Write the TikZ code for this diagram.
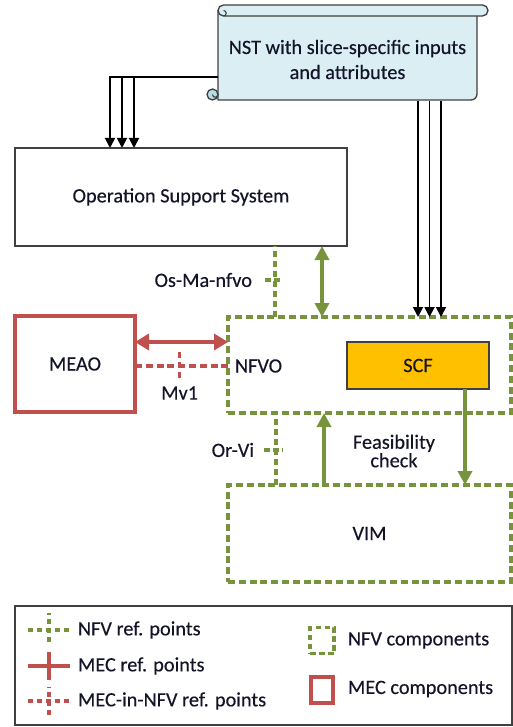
\documentclass[tikz,border=0pt]{standalone}
\usepackage{fontspec}
\setmainfont{Carlito}[FakeBold=0.35]
\usetikzlibrary{arrows.meta,calc}
\definecolor{nfvgreen}{HTML}{77933C}
\definecolor{mecred}{HTML}{C0504D}
\definecolor{scfgold}{HTML}{FFC000}
\definecolor{scrollblue}{HTML}{DAEEF3}
\definecolor{scrolldark}{HTML}{B7DDE8}
\definecolor{edgegray}{HTML}{404040}
\definecolor{txt}{HTML}{141428}
\begin{document}
\begin{tikzpicture}[x=1pt,y=-1pt,
  every node/.style={font=\fontsize{20.3}{25}\selectfont, inner sep=0pt, outer sep=0pt, text=txt},
  plainbox/.style={draw=edgegray, line width=1.3pt, rectangle},
  nfvbox/.style={draw=nfvgreen, line width=3.2pt, dash pattern=on 7pt off 3.8pt, line cap=butt, rectangle},
  mecbox/.style={draw=mecred, line width=4pt, rectangle},
  scfbox/.style={draw=edgegray, fill=scfgold, line width=1.3pt, rectangle},
  scrollshape/.style={draw=edgegray, fill=scrollblue, line width=1.3pt, line join=round},
  nfvref/.style={draw=nfvgreen, line width=3.6pt, dash pattern=on 6.5pt off 3.5pt, line cap=butt},
  mecnfvref/.style={draw=mecred, line width=3.4pt, dash pattern=on 7pt off 3.8pt, line cap=butt},
  tickdash/.style={dash pattern=on 6pt off 3pt},
  mecref/.style={draw=mecred, line width=4pt},
  garrow/.style={draw=nfvgreen, line width=3.5pt},
  gtip/.tip={Triangle[width=14pt,length=14pt]},
  rtip/.tip={Triangle[width=16pt,length=14pt]},
  blkarrow/.style={draw=black, line width=1.8pt, -{Triangle[width=10pt,length=10pt]}},
  legnfvref/.style={draw=nfvgreen, line width=3.4pt, dash pattern=on 5pt off 4pt, line cap=butt},
  legmecnfvref/.style={draw=mecred, line width=3.4pt, dash pattern=on 5pt off 4pt, line cap=butt},
  legnfvbox/.style={draw=nfvgreen, line width=3.2pt, dash pattern=on 5.5pt off 3.5pt, line cap=butt},
]
\useasboundingbox (0,0) rectangle (513,727);

% ---- NST scroll ----
\path[scrollshape] (218,10.5) -- (218,100) -- (471,100) arc[start angle=90,end angle=0,radius=6] -- (477,10.5) -- cycle;
\path[scrollshape] (223.5,5) -- (482.5,5) arc[start angle=270,end angle=450,radius=5.5] -- (223.5,16) arc[start angle=90,end angle=270,radius=5.5] -- cycle;
\draw[edgegray, line width=1.1pt] (223.5,16) arc[start angle=90,end angle=-90,radius=2.75];
\path[scrollshape, fill=scrolldark] (212.5,94.5) circle[radius=5.5];
\draw[edgegray, line width=1.1pt] (212.5,94.5) arc[start angle=180,end angle=0,radius=2.75];
\node[minimum width=259pt, minimum height=84pt, align=center] (nst) at (347.5,59.5) {NST with slice-specific inputs\\and attributes};

% ---- main boxes ----
\node[plainbox, minimum width=332pt, minimum height=98pt] (oss) at (181,197) {Operation Support System};
\node[nfvbox, minimum width=283pt, minimum height=96pt] (nfvo) at (369.5,365) {};
\node[scfbox, minimum width=142pt, minimum height=47pt] (scf) at (418,365.5) {SCF};
\node[mecbox, minimum width=120pt, minimum height=96pt] (meao) at (75,364) {MEAO};
\node[nfvbox, minimum width=283pt, minimum height=97pt] (vim) at (369.5,533.5) {VIM};
\node[anchor=west] (nfvolabel) at ($(nfvo.west)+(7,1)$) {NFVO};

% ---- black input arrows ----
\coordinate (nstL) at ($(nst.west)+(0,17.5)$);
\draw[blkarrow] (nstL) -| ($(oss.north west)+(95,0)$);
\draw[blkarrow] (nstL) -| ($(oss.north west)+(107,0)$);
\draw[blkarrow] (nstL) -| ($(oss.north west)+(119,0)$);
\coordinate (b1) at ($(nst.south)+(70.5,0)$);
\coordinate (b2) at ($(nst.south)+(82,0)$);
\coordinate (b3) at ($(nst.south)+(93.5,0)$);
\draw[blkarrow] (b1) -- (b1 |- nfvo.north);
\draw[blkarrow] (b2) -- (b2 |- nfvo.north);
\draw[blkarrow] (b3) -- (b3 |- nfvo.north);

% ---- Os-Ma-nfvo ----
\coordinate (osma) at ($(oss.south west)+(260,0)$);
\draw[nfvref] (osma |- nfvo.north) -- (osma);
\coordinate (osmaT) at ($(osma)+(0,34)$);
\draw[nfvref, tickdash] ($(osmaT)+(-10,0)$) -- ($(osmaT)+(8,0)$);
\node[anchor=east] (osmalabel) at ($(osmaT)+(-23,0)$) {Os-Ma-nfvo};
\coordinate (g1) at ($(oss.south east)+(-25,0)$);
\draw[garrow, gtip-gtip] (g1) -- (g1 |- nfvo.north);

% ---- MEAO links ----
\coordinate (r1) at ($(meao.east)+(0,-22)$);
\draw[mecref, rtip-rtip] (r1) -- (r1 -| nfvo.west);
\coordinate (r2) at ($(meao.east)+(0,2)$);
\draw[mecnfvref] (r2) -- (r2 -| nfvo.west);
\coordinate (mv) at ($(r2)!0.48!(r2 -| nfvo.west)$);
\draw[mecnfvref, dash pattern=on 6pt off 4pt] ($(mv)+(0,12)$) -- ($(mv)+(0,-14)$);
\node (mv1label) at ($(mv)+(0,27)$) {Mv1};

% ---- Or-Vi and feasibility ----
\coordinate (ov) at ($(nfvo.south west)+(48,0)$);
\draw[nfvref] (ov |- vim.north) -- (ov);
\coordinate (ovT) at ($(ov)+(0,37)$);
\draw[nfvref, tickdash] ($(ovT)+(-12,0)$) -- ($(ovT)+(7,0)$);
\node[anchor=east] (orvilabel) at ($(ovT)+(-22,0)$) {Or-Vi};
\coordinate (u1) at ($(vim.north west)+(96,0)$);
\draw[garrow, -gtip] (u1) -- (u1 |- nfvo.south);
\coordinate (d1) at ($(scf.south)+(47,0)$);
\draw[garrow, -gtip] (d1) -- (d1 |- vim.north);
\node[align=center, font=\fontsize{20.3}{18.5}\selectfont] (feas) at (394,451) {Feasibility\\check};

% ---- legend ----
\node[plainbox, minimum width=497pt, minimum height=119pt] (legend) at (263.5,665.5) {};
\coordinate (l1) at ($(legend.north west)+(34,24)$);
\draw[legnfvref] ($(l1)+(-21,0)$) -- ($(l1)+(20,0)$);
\draw[legnfvref] ($(l1)+(0,12)$) -- ($(l1)+(0,-17)$);
\node[anchor=west] (leg1) at ($(l1)+(29,0)$) {NFV ref. points};
\coordinate (l2) at ($(legend.north west)+(34,60)$);
\draw[mecref] ($(l2)+(-21,0)$) -- ($(l2)+(21,0)$);
\draw[mecref] ($(l2)+(0,-14)$) -- ($(l2)+(0,14)$);
\node[anchor=west] (leg2) at ($(l2)+(29,0)$) {MEC ref. points};
\coordinate (l3) at ($(legend.north west)+(34,95)$);
\draw[legmecnfvref] ($(l3)+(-21,0)$) -- ($(l3)+(20,0)$);
\draw[legmecnfvref] ($(l3)+(0,14)$) -- ($(l3)+(0,-14)$);
\node[anchor=west] (leg3) at ($(l3)+(29,0)$) {MEC-in-NFV ref. points};
\node[legnfvbox, minimum width=24pt, minimum height=26pt] (legnfv) at ($(legend.north west)+(307,34.5)$) {};
\node[anchor=west] (leg4) at ($(legnfv.east)+(14,0)$) {NFV components};
\node[mecbox, minimum width=22pt, minimum height=26pt] (legmec) at ($(legend.north west)+(307,84)$) {};
\node[anchor=west] (leg5) at ($(legmec.east)+(15,-1)$) {MEC components};
\end{tikzpicture}
\end{document}
